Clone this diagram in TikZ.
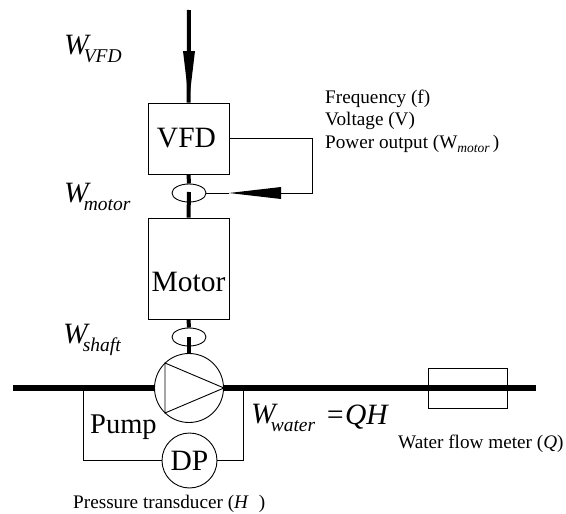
\documentclass[tikz,border=0pt]{standalone}
\usepackage{fontspec}
\setmainfont{Liberation Serif}
\newcommand{\bigf}{\fontsize{29.5}{29.5}\selectfont}
\newcommand{\subf}{\fontsize{19.5}{19.5}\selectfont}
\newcommand{\smf}{\fontsize{19.2}{19.2}\selectfont}
\newcommand{\smsub}{\fontsize{13.5}{13.5}\selectfont}
\newcommand{\Wsub}[1]{{\itshape W\kern-5pt\raisebox{-8.5pt}{\subf #1}}}
\usetikzlibrary{shapes.geometric}
\tikzset{
  x=1pt,y=-1pt,
  thin line/.style={draw=black,line width=0.9pt},
  heavy/.style={draw=black,line width=4pt},
  pipe/.style={draw=black,line width=5.5pt},
  block/.style={thin line,inner sep=0pt,minimum width=81pt,fill=none},
  disc/.style={thin line,circle,inner sep=0pt},
  tap/.style={thin line,ellipse,inner sep=0pt,minimum width=34pt,minimum height=18pt},
  big/.style={inner sep=0pt,anchor=base west,font=\bigf},
  small/.style={inner sep=0pt,anchor=base west,font=\smf},
}
\begin{document}
\begin{tikzpicture}
\useasboundingbox (0,0) rectangle (566,514);
% nodes
\coordinate (top) at (189,10);
\node[block,minimum height=71pt] (vfd) at (188.5,138.5) {};
\node[block,minimum height=101pt] (motor) at (188.5,268.5) {};
\node[tap] (t1) at (189,193) {};
\node[tap] (t2) at (189,337) {};
\node[disc,minimum size=69pt] (pump) at (189,388) {};
\node[disc,minimum size=55pt] (dp) at (189.5,460.5) {};
\node[thin line,inner sep=0pt,minimum width=79pt,minimum height=40pt] (fm) at (467.5,388) {};
\coordinate (pipeL) at (13,388);
\coordinate (pipeR) at (536,388);
\coordinate (wedgeBL) at (183,51);
\coordinate (wedgeBR) at (195,51);
\coordinate (wedgeT) at (189,101);
\coordinate (c1) at (312,138);
\coordinate (c2) at (312,193);
\coordinate (w1) at (281,187);
\coordinate (w2) at (281,199);
\coordinate (w3) at (229,193);
\coordinate (w4) at (281,193);
\coordinate (sl) at (83,388);
\coordinate (sld) at (83,460.5);
\coordinate (sr) at (243,388);
\coordinate (srd) at (243,460.5);
\coordinate (tri1) at (165,363);
\coordinate (tri2) at (165,413);
\coordinate (s1) at (189,192);
\coordinate (s2) at (189,337);
% pipe
\draw[pipe] (pipeL) -- (pump.west);
\draw[pipe] (pump.east) -- (pipeR);
% heavy shaft
\draw[heavy] (top) -- (vfd.north);
\fill (wedgeBL) -- (wedgeBR) -- (wedgeT) -- cycle;
\draw[heavy] (vfd.south) -- (t1.north);
\draw[heavy] (s1) -- (motor.north);
\draw[heavy] (motor.south) -- (t2.north);
\draw[heavy] (s2) -- (pump.north);
% feedback
\draw[thin line] (vfd.east |- c1) -- (c1) -- (c2) -- (w4);
\fill (w1) -- (w2) -- (w3) -- cycle;
\draw[thin line] (w3) -- (t1.east);
% pump
\draw[thin line] (tri1) -- (tri2) -- (pump.east) -- cycle;
% transducer
\draw[thin line] (sl) -- (sld) -- (dp.west);
\draw[thin line] (sr) -- (srd) -- (dp.east);
% labels
\node[big] (lv) at (64,54) {\Wsub{VFD}};
\node[big] (lm) at (64,202) {\Wsub{motor}};
\node[big] (ls) at (63,343) {\Wsub{shaft}};
\node[big] (lw) at (251,423) {\Wsub{water}};
\node[big] (lq) at (325,424) {\itshape =QH};
\node[big,anchor=base] (lvfd) at (186.5,147) {VFD};
\node[big,anchor=base] (lmot) at (188.5,291) {Motor};
\node[big] (lpump) at (90,433) {\fontsize{28.5}{28.5}\selectfont Pump};
\node[big,anchor=base] (ldp) at (189.5,470) {DP};
\node[small] (f1) at (325,103) {Frequency (f)};
\node[small] (f2) at (325,125.5) {Voltage (V)};
\node[small] (f3) at (325,148) {Power output (W\raisebox{-4.5pt}{\smsub\itshape motor}\,)};
\node[small] (pt) at (73,508) {Pressure transducer (\textit{H}\hspace{10pt})};
\node[small] (wm) at (398,448) {Water flow meter (\textit{Q})};
\end{tikzpicture}
\end{document}
